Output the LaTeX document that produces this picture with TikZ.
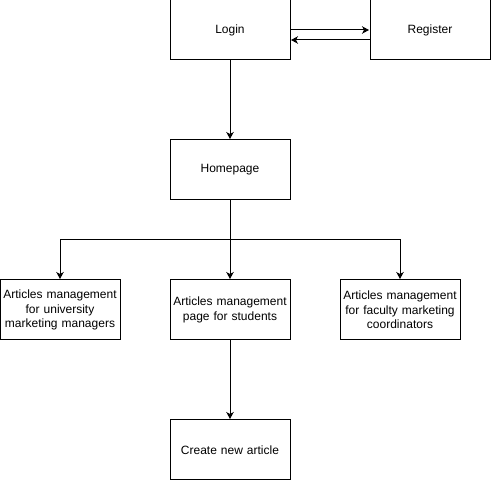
\documentclass[tikz,border=0pt]{standalone}
\usepackage{fontspec}
\setmainfont{Liberation Sans}
\usetikzlibrary{arrows.meta, positioning, calc}

\begin{document}
\begin{tikzpicture}[x=1pt, y=-1pt,
  page/.style={draw=black, fill=white, line width=1pt, minimum width=120pt, minimum height=60pt, text width=114pt, align=center, inner sep=2pt, font=\fontsize{12}{14.5}\selectfont},
  link/.style={-{Stealth[length=7pt, width=7.5pt, inset=2pt]}, line width=1pt, shorten >=0.5pt}]
  \useasboundingbox (0,0) rectangle (491,481);

  % Login and Register
  \node[page] (login) at (230, 30) {Login};
  \node[page] (register) at (430, 30) {Register};
  \draw[link] (login.east) -- (register.west);
  \draw[link] ([yshift=-10pt]register.west) -- ([yshift=-10pt]login.east);

  % Homepage
  \node[page] (home) at (230, 170) {Homepage};
  \draw[link] (login.south) -- (home.north);

  % Management pages
  \node[page] (univ) at (60, 310) {Articles management for university marketing managers};
  \node[page] (students) at (230, 310) {Articles management page for students};
  \node[page] (faculty) at (400, 310) {Articles management for faculty marketing coordinators};
  \coordinate (split) at (230, 240);
  \draw[line width=1pt] (home.south) -- (split);
  \draw[link] (split) -| (univ.north);
  \draw[link] (split) -- (students.north);
  \draw[link] (split) -| (faculty.north);

  % Create new article
  \node[page] (create) at (230, 450) {Create new article};
  \draw[link] (students.south) -- (create.north);
\end{tikzpicture}
\end{document}
